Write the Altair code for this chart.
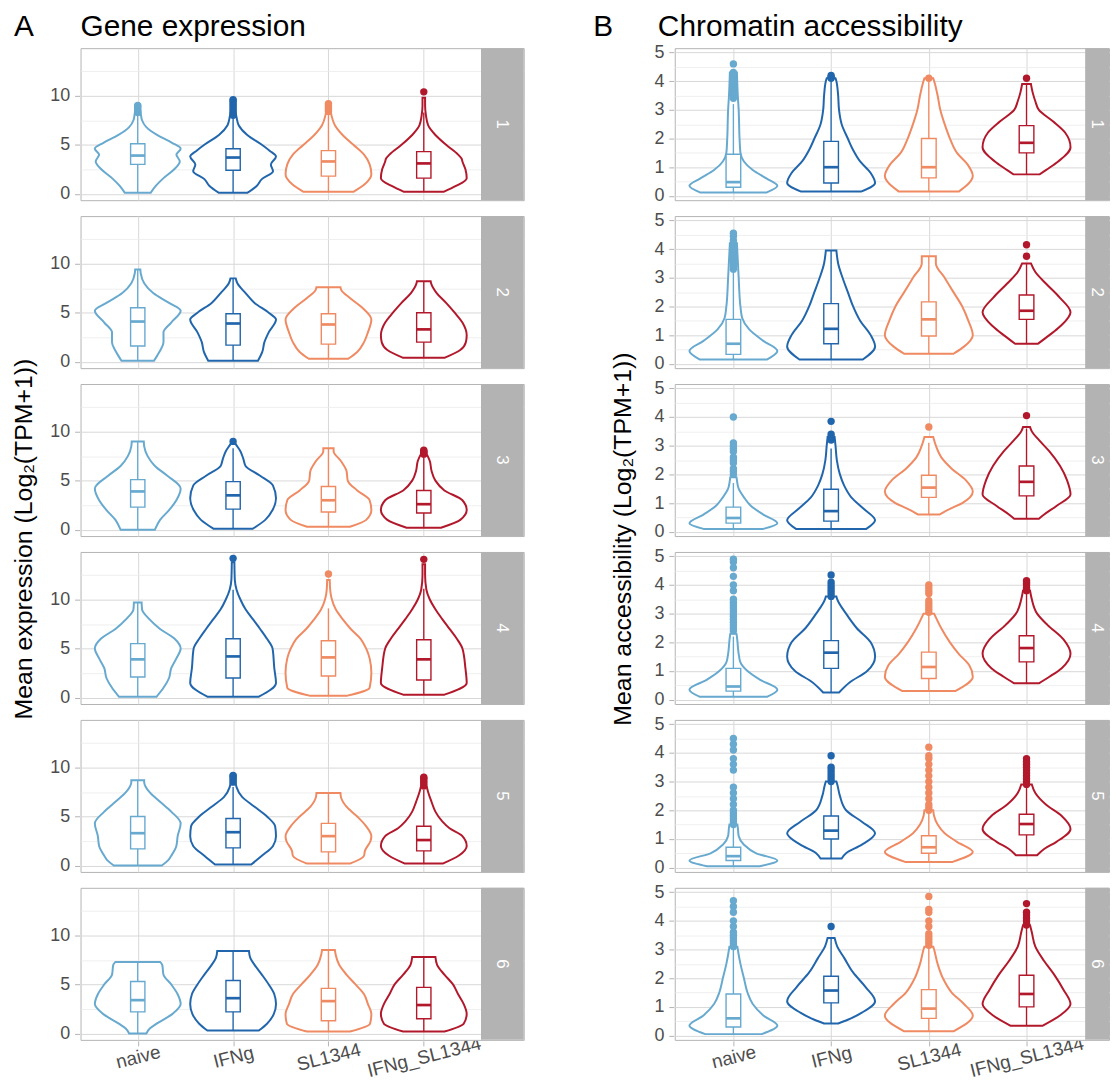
import altair as alt
import pandas as pd

FONT = "Liberation Sans"
CONDS = ["naive", "IFNg", "SL1344", "IFNg_SL1344"]
COLORS = ["#67A9CF", "#2166AC", "#EF8A62", "#B2182B"]
ROWS = [1, 2, 3, 4, 5, 6]

# ---------------- Panel A : gene expression ----------------
# violin outlines: (value, relative half-width)
PROF_A = {
    1: {"naive": [(0.1, 0.3), (0.8, 0.42), (1.6, 0.6), (2.5, 0.85), (3.3, 0.98), (4.0, 0.9), (4.6, 1.0), (5.2, 0.8), (6.0, 0.45), (6.8, 0.2), (7.5, 0.1), (8.2, 0.07), (8.7, 0.05)],
        "IFNg": [(0.1, 0.33), (0.8, 0.55), (1.5, 0.67), (2.3, 0.93), (3.0, 0.88), (3.8, 1.0), (4.4, 0.85), (5.0, 0.67), (6.0, 0.33), (7.0, 0.13), (7.8, 0.08), (8.3, 0.06)],
        "SL1344": [(0.2, 0.58), (1.0, 0.85), (2.0, 1.0), (3.0, 0.96), (4.0, 0.83), (5.0, 0.58), (6.0, 0.33), (7.0, 0.15), (8.0, 0.07), (8.5, 0.05)],
        "IFNg_SL1344": [(0.2, 0.46), (0.8, 0.75), (1.6, 1.0), (2.5, 0.97), (3.3, 0.9), (3.6, 0.88), (4.0, 0.8), (5.0, 0.52), (6.0, 0.27), (7.0, 0.1), (8.0, 0.05), (9.0, 0.03), (9.8, 0.03)]},
    2: {"naive": [(0.1, 0.38), (0.6, 0.45), (1.2, 0.53), (2.0, 0.6), (3.0, 0.6), (4.0, 0.78), (5.2, 1.0), (6.0, 0.73), (7.0, 0.36), (8.0, 0.15), (9.0, 0.07), (9.4, 0.06)],
        "IFNg": [(0.1, 0.58), (1.0, 0.68), (2.0, 0.73), (3.0, 0.83), (4.3, 1.0), (5.0, 0.83), (6.0, 0.5), (7.0, 0.29), (8.0, 0.1), (8.5, 0.06)],
        "SL1344": [(0.3, 0.46), (1.0, 0.67), (2.0, 0.83), (3.0, 0.92), (4.3, 1.0), (5.5, 0.79), (6.5, 0.5), (7.3, 0.3), (7.6, 0.28)],
        "IFNg_SL1344": [(0.4, 0.48), (1.2, 0.85), (2.0, 0.98), (2.7, 1.0), (4.0, 0.9), (5.0, 0.72), (6.0, 0.52), (7.0, 0.3), (8.0, 0.17), (8.2, 0.16)]},
    3: {"naive": [(0.0, 0.4), (1.0, 0.52), (2.0, 0.73), (3.0, 0.9), (4.2, 1.0), (5.5, 0.69), (6.5, 0.4), (7.5, 0.23), (8.5, 0.15), (9.0, 0.14)],
        "IFNg": [(0.1, 0.46), (1.0, 0.75), (2.0, 0.92), (3.2, 1.0), (4.5, 0.93), (5.5, 0.63), (6.5, 0.29), (7.2, 0.24), (8.0, 0.17), (8.6, 0.08), (8.8, 0.05)],
        "SL1344": [(0.3, 0.5), (1.0, 0.88), (2.0, 1.0), (3.0, 0.96), (4.0, 0.67), (5.0, 0.45), (6.0, 0.42), (7.0, 0.29), (8.0, 0.12), (8.3, 0.12)],
        "IFNg_SL1344": [(0.2, 0.4), (1.0, 0.85), (2.0, 1.0), (3.0, 0.9), (4.0, 0.48), (5.0, 0.27), (6.0, 0.18), (7.0, 0.14), (7.6, 0.08)]},
    4: {"naive": [(0.1, 0.44), (1.0, 0.6), (2.0, 0.73), (3.0, 0.78), (4.0, 0.9), (5.0, 1.0), (6.0, 0.86), (7.0, 0.52), (8.0, 0.27), (9.0, 0.1), (9.7, 0.09)],
        "IFNg": [(0.1, 0.6), (1.5, 1.0), (3.0, 0.96), (5.0, 0.92), (6.0, 0.79), (7.0, 0.63), (8.0, 0.46), (9.0, 0.29), (10.0, 0.17), (11.0, 0.08), (12.0, 0.04), (13.8, 0.03)],
        "SL1344": [(0.2, 0.44), (1.0, 0.96), (2.5, 1.0), (4.0, 0.96), (5.0, 0.88), (6.0, 0.75), (7.0, 0.52), (8.0, 0.33), (9.0, 0.17), (10.0, 0.08), (11.0, 0.04), (12.0, 0.03)],
        "IFNg_SL1344": [(0.3, 0.48), (1.5, 1.0), (3.0, 0.97), (5.0, 0.9), (6.0, 0.77), (7.0, 0.6), (8.0, 0.43), (9.0, 0.27), (10.0, 0.14), (11.0, 0.06), (12.5, 0.03), (13.6, 0.03)]},
    5: {"naive": [(0.0, 0.56), (0.5, 0.7), (1.0, 0.78), (2.0, 0.9), (3.0, 0.93), (4.3, 1.0), (5.5, 0.78), (6.5, 0.52), (7.5, 0.27), (8.5, 0.15), (8.7, 0.15)],
        "IFNg": [(0.1, 0.42), (1.0, 0.67), (2.0, 0.93), (3.0, 1.0), (4.0, 0.98), (5.0, 0.79), (6.0, 0.5), (7.0, 0.21), (8.0, 0.08), (8.4, 0.06)],
        "SL1344": [(0.2, 0.5), (1.0, 0.83), (1.5, 0.85), (2.5, 0.98), (3.0, 1.0), (4.0, 0.88), (5.0, 0.67), (6.0, 0.42), (7.0, 0.29), (7.4, 0.28)],
        "IFNg_SL1344": [(0.2, 0.44), (1.0, 0.81), (2.0, 1.0), (3.0, 0.9), (3.8, 0.6), (4.5, 0.43), (5.5, 0.27), (6.5, 0.18), (7.5, 0.1), (8.0, 0.07)]},
    6: {"naive": [(0.0, 0.2), (0.5, 0.28), (1.0, 0.44), (2.0, 0.81), (3.0, 1.0), (4.0, 0.93), (5.0, 0.78), (6.0, 0.6), (7.0, 0.57), (7.3, 0.52)],
        "IFNg": [(0.3, 0.6), (1.0, 0.79), (2.0, 0.95), (3.0, 1.0), (4.0, 0.96), (5.0, 0.83), (6.0, 0.67), (7.0, 0.5), (7.7, 0.4), (8.4, 0.37)],
        "SL1344": [(0.2, 0.5), (1.0, 0.97), (2.0, 1.0), (3.0, 0.92), (4.0, 0.83), (5.0, 0.63), (6.0, 0.42), (7.0, 0.25), (8.0, 0.17), (8.5, 0.15)],
        "IFNg_SL1344": [(0.2, 0.48), (1.0, 0.93), (2.0, 1.0), (3.0, 0.93), (4.0, 0.8), (5.0, 0.68), (6.0, 0.48), (7.0, 0.31), (7.8, 0.27)]},
}
# box stats: (lower whisker, q1, median, q3, upper whisker)
BOX_A = {
    1: {"naive": (0.1, 3.0, 3.9, 5.1, 8.2), "IFNg": (0.1, 2.4, 3.7, 4.6, 7.9), "SL1344": (0.2, 1.8, 3.3, 4.4, 8.2), "IFNg_SL1344": (0.2, 1.6, 3.1, 4.3, 8.3)},
    2: {"naive": (0.1, 1.6, 4.1, 5.5, 9.4), "IFNg": (0.1, 1.7, 3.9, 4.9, 8.5), "SL1344": (0.3, 1.8, 3.8, 4.9, 7.6), "IFNg_SL1344": (0.4, 2.0, 3.3, 5.0, 8.2)},
    3: {"naive": (0.0, 2.3, 3.9, 5.1, 9.0), "IFNg": (0.1, 2.1, 3.5, 4.9, 8.3), "SL1344": (0.3, 1.8, 3.0, 4.4, 8.3), "IFNg_SL1344": (0.2, 1.7, 2.6, 4.0, 7.6)},
    4: {"naive": (0.1, 2.1, 3.9, 5.5, 9.7), "IFNg": (0.1, 2.0, 4.2, 6.0, 11.0), "SL1344": (0.2, 2.2, 4.1, 5.8, 9.1), "IFNg_SL1344": (0.3, 1.8, 3.9, 5.9, 11.1)},
    5: {"naive": (0.0, 1.7, 3.3, 5.0, 8.7), "IFNg": (0.1, 1.8, 3.4, 4.8, 8.0), "SL1344": (0.2, 1.4, 3.0, 4.3, 7.4), "IFNg_SL1344": (0.2, 1.5, 2.6, 4.0, 7.7)},
    6: {"naive": (0.0, 2.2, 3.4, 5.3, 7.3), "IFNg": (0.3, 2.2, 3.6, 5.4, 8.4), "SL1344": (0.2, 1.3, 3.3, 4.6, 8.5), "IFNg_SL1344": (0.2, 1.5, 2.9, 4.7, 7.8)},
}
OUT_A = {
    1: {"naive": [8.3, 8.5, 8.7, 8.9, 9.0], "IFNg": [8.0, 8.3, 8.5, 8.7, 8.9, 9.1, 9.3, 9.5, 9.6], "SL1344": [8.4, 8.6, 8.8, 9.0, 9.2], "IFNg_SL1344": [10.4]},
    2: {},
    3: {"IFNg": [9.0], "IFNg_SL1344": [7.7, 7.8, 7.9, 8.0, 8.1]},
    4: {"IFNg": [14.2], "SL1344": [12.6], "IFNg_SL1344": [14.1]},
    5: {"IFNg": [8.5, 8.7, 8.9, 9.1, 9.2], "IFNg_SL1344": [8.1, 8.3, 8.5, 8.7, 8.9, 9.0]},
    6: {},
}

# ---------------- Panel B : chromatin accessibility ----------------
PROF_B = {
    1: {"naive": [(0.12, 0.76), (0.35, 1.0), (0.6, 0.76), (0.9, 0.44), (1.2, 0.24), (1.5, 0.16), (2.0, 0.14), (3.0, 0.12), (3.5, 0.1), (4.3, 0.08)],
        "IFNg": [(0.15, 0.68), (0.45, 1.0), (0.8, 0.9), (1.2, 0.66), (1.6, 0.5), (2.0, 0.38), (2.5, 0.24), (3.0, 0.18), (3.5, 0.16), (4.0, 0.12), (4.1, 0.1)],
        "SL1344": [(0.15, 0.68), (0.7, 1.0), (1.1, 0.88), (1.5, 0.64), (2.0, 0.48), (2.5, 0.36), (3.0, 0.26), (3.5, 0.2), (3.9, 0.14), (4.1, 0.1)],
        "IFNg_SL1344": [(0.75, 0.3), (0.9, 0.44), (1.2, 0.72), (1.7, 1.0), (2.2, 0.88), (2.6, 0.6), (3.0, 0.28), (3.3, 0.2), (3.6, 0.14), (3.9, 0.1)]},
    2: {"naive": [(0.15, 0.76), (0.45, 1.0), (0.8, 0.68), (1.2, 0.36), (1.6, 0.2), (2.0, 0.16), (3.0, 0.12), (4.2, 0.08)],
        "IFNg": [(0.15, 0.72), (0.6, 1.0), (1.0, 0.9), (1.5, 0.66), (2.0, 0.5), (2.5, 0.38), (3.0, 0.26), (3.5, 0.16), (3.95, 0.12)],
        "SL1344": [(0.35, 0.56), (0.6, 0.8), (1.0, 1.0), (1.5, 0.9), (2.0, 0.76), (2.5, 0.56), (3.0, 0.36), (3.5, 0.16), (3.75, 0.16)],
        "IFNg_SL1344": [(0.7, 0.26), (1.0, 0.52), (1.3, 0.76), (1.8, 1.0), (2.3, 0.76), (2.8, 0.44), (3.2, 0.2), (3.5, 0.1)]},
    3: {"naive": [(0.1, 0.68), (0.3, 1.0), (0.6, 0.68), (0.9, 0.4), (1.2, 0.24), (1.5, 0.12), (1.8, 0.08), (1.9, 0.07)],
        "IFNg": [(0.1, 0.8), (0.4, 1.0), (0.8, 0.74), (1.2, 0.46), (1.6, 0.3), (2.0, 0.2), (2.5, 0.13), (3.0, 0.1), (3.3, 0.08)],
        "SL1344": [(0.6, 0.24), (0.8, 0.48), (1.0, 0.76), (1.4, 1.0), (1.8, 0.84), (2.2, 0.52), (2.6, 0.28), (3.0, 0.16), (3.3, 0.1)],
        "IFNg_SL1344": [(0.45, 0.28), (0.6, 0.4), (0.9, 0.68), (1.3, 1.0), (1.8, 0.92), (2.3, 0.76), (2.8, 0.52), (3.2, 0.28), (3.5, 0.12), (3.65, 0.08)]},
    4: {"naive": [(0.1, 0.76), (0.35, 1.0), (0.7, 0.6), (1.0, 0.32), (1.3, 0.16), (1.6, 0.12), (2.2, 0.08), (2.3, 0.07)],
        "IFNg": [(0.25, 0.18), (0.6, 0.42), (1.0, 0.82), (1.5, 1.0), (2.0, 0.9), (2.5, 0.58), (3.0, 0.34), (3.5, 0.14), (3.6, 0.12)],
        "SL1344": [(0.3, 0.6), (0.8, 1.0), (1.2, 0.92), (1.6, 0.68), (2.0, 0.48), (2.5, 0.28), (3.0, 0.12)],
        "IFNg_SL1344": [(0.57, 0.28), (0.8, 0.52), (1.1, 0.8), (1.6, 1.0), (2.1, 0.84), (2.6, 0.48), (3.0, 0.24), (3.5, 0.12), (3.8, 0.08)]},
    5: {"naive": [(0.05, 0.6), (0.25, 1.0), (0.5, 0.52), (0.8, 0.24), (1.1, 0.12), (1.4, 0.1), (1.5, 0.09)],
        "IFNg": [(0.32, 0.24), (0.5, 0.34), (0.8, 0.7), (1.2, 1.0), (1.6, 0.7), (2.0, 0.34), (2.5, 0.2), (2.9, 0.14), (3.0, 0.12)],
        "SL1344": [(0.2, 0.54), (0.55, 1.0), (0.9, 0.64), (1.2, 0.36), (1.5, 0.2), (1.8, 0.12), (2.0, 0.1)],
        "IFNg_SL1344": [(0.43, 0.24), (0.65, 0.4), (0.9, 0.68), (1.35, 1.0), (1.8, 0.8), (2.2, 0.44), (2.6, 0.2), (2.9, 0.12)]},
    6: {"naive": [(0.05, 0.64), (0.35, 1.0), (0.7, 0.68), (1.1, 0.44), (1.5, 0.32), (2.0, 0.24), (2.5, 0.16), (3.0, 0.1), (3.1, 0.09)],
        "IFNg": [(0.42, 0.16), (0.55, 0.38), (0.8, 0.7), (1.2, 1.0), (1.7, 0.78), (2.2, 0.5), (2.7, 0.3), (3.1, 0.14), (3.4, 0.08)],
        "SL1344": [(0.15, 0.56), (0.7, 1.0), (1.1, 0.8), (1.5, 0.52), (2.0, 0.32), (2.5, 0.2), (3.0, 0.12), (3.1, 0.1)],
        "IFNg_SL1344": [(0.34, 0.36), (0.7, 0.76), (1.1, 1.0), (1.6, 0.84), (2.1, 0.64), (2.6, 0.4), (3.1, 0.2), (3.6, 0.12), (3.85, 0.08)]},
}
BOX_B = {
    1: {"naive": (0.12, 0.3, 0.48, 1.45, 3.2), "IFNg": (0.15, 0.45, 1.0, 1.9, 4.0), "SL1344": (0.15, 0.63, 1.0, 2.0, 4.05), "IFNg_SL1344": (0.75, 1.5, 1.85, 2.45, 3.9)},
    2: {"naive": (0.15, 0.33, 0.7, 1.55, 3.3), "IFNg": (0.15, 0.7, 1.22, 2.1, 3.95), "SL1344": (0.35, 0.97, 1.55, 2.16, 3.75), "IFNg_SL1344": (0.7, 1.55, 1.85, 2.4, 3.5)},
    3: {"naive": (0.1, 0.3, 0.48, 0.86, 1.7), "IFNg": (0.1, 0.37, 0.72, 1.48, 2.9), "SL1344": (0.6, 1.2, 1.54, 1.97, 3.1), "IFNg_SL1344": (0.45, 1.25, 1.74, 2.29, 3.6)},
    4: {"naive": (0.1, 0.3, 0.46, 1.09, 2.2), "IFNg": (0.25, 1.09, 1.64, 2.06, 3.5), "SL1344": (0.3, 0.74, 1.14, 1.66, 3.0), "IFNg_SL1344": (0.57, 1.32, 1.8, 2.23, 3.7)},
    5: {"naive": (0.05, 0.25, 0.4, 0.71, 1.4), "IFNg": (0.32, 1.0, 1.29, 1.8, 2.9), "SL1344": (0.2, 0.5, 0.71, 1.11, 1.9), "IFNg_SL1344": (0.43, 1.14, 1.52, 1.86, 2.8)},
    6: {"naive": (0.05, 0.3, 0.6, 1.45, 3.0), "IFNg": (0.42, 1.14, 1.57, 2.07, 3.4), "SL1344": (0.15, 0.6, 0.94, 1.6, 3.1), "IFNg_SL1344": (0.34, 1.0, 1.45, 2.1, 3.8)},
}
OUT_B = {
    1: {"naive": [3.4, 3.5, 3.6, 3.7, 3.8, 3.9, 4.0, 4.1, 4.2, 4.3, 4.6], "IFNg": [4.1, 4.15, 4.2], "SL1344": [4.1], "IFNg_SL1344": [4.1]},
    2: {"naive": [3.3, 3.4, 3.5, 3.6, 3.7, 3.8, 3.9, 4.0, 4.1, 4.2, 4.3, 4.45, 4.55], "IFNg_SL1344": [3.75, 4.15]},
    3: {"naive": [2.0, 2.1, 2.2, 2.4, 2.5, 2.6, 2.8, 2.9, 3.0, 3.1, 4.0], "IFNg": [3.2, 3.3, 3.4, 3.85], "SL1344": [3.65], "IFNg_SL1344": [4.05]},
    4: {"naive": [2.4, 2.5, 2.6, 2.7, 2.8, 2.9, 3.0, 3.1, 3.2, 3.3, 3.4, 3.5, 3.8, 4.0, 4.3, 4.6, 4.8, 4.9],
        "IFNg": [3.6, 3.7, 3.8, 3.9, 4.0, 4.1, 4.35], "SL1344": [3.05, 3.15, 3.25, 3.35, 3.45, 3.7, 3.8, 3.9, 4.0],
        "IFNg_SL1344": [3.8, 3.85, 3.9, 4.0, 4.05, 4.1, 4.15]},
    5: {"naive": [1.5, 1.6, 1.7, 1.8, 1.9, 2.0, 2.2, 2.4, 2.6, 2.8, 3.4, 3.6, 3.8, 4.1, 4.3, 4.5],
        "IFNg": [3.0, 3.1, 3.2, 3.3, 3.4, 3.5, 3.9],
        "SL1344": [2.0, 2.1, 2.2, 2.4, 2.6, 2.8, 3.0, 3.2, 3.4, 3.6, 3.8, 3.9, 4.2],
        "IFNg_SL1344": [2.9, 3.0, 3.1, 3.2, 3.3, 3.4, 3.5, 3.6, 3.7, 3.8]},
    6: {"naive": [3.1, 3.2, 3.3, 3.4, 3.5, 3.6, 3.8, 4.0, 4.3, 4.5, 4.7], "IFNg": [3.8],
        "SL1344": [3.15, 3.25, 3.35, 3.45, 3.55, 3.8, 4.0, 4.3, 4.4, 4.85],
        "IFNg_SL1344": [3.85, 3.9, 4.0, 4.1, 4.2, 4.3, 4.6]},
}

PANEL_LETTERS = ["A", "B"]
PANEL_TITLES = ["Gene expression", "Chromatin accessibility"]
Y_TITLES = ["Mean expression (Log\u2082(TPM+1))", "Mean accessibility (Log\u2082(TPM+1))"]

VIOLIN_HALF = 0.45
BOX_HALF = 0.075
H = 153
SPACING = 14
GRID_H = 6 * H + 5 * SPACING


def build(prof, boxes, outs):
    recs = []
    for r in ROWS:
        recs.append(dict(kind="strip", row=r))
        for i, c in enumerate(CONDS):
            pos = i + 1
            for y, w in sorted(prof[r][c]):
                recs.append(dict(kind="violin", row=r, cond=c, y=y,
                                 xl=pos - VIOLIN_HALF * w, xr=pos + VIOLIN_HALF * w))
            lo, q1, med, q3, hi = boxes[r][c]
            recs.append(dict(kind="box", row=r, cond=c, pos=pos, bl=pos - BOX_HALF,
                             br=pos + BOX_HALF, lo=lo, q1=q1, med=med, q3=q3, hi=hi))
            for v in outs[r].get(c, []):
                recs.append(dict(kind="out", row=r, cond=c, pos=pos, y=v))
    return pd.DataFrame(recs)


def panel(df, ydom, ymajor, yvalues, xmax, plot_w, full_w):
    cs = alt.Scale(domain=CONDS, range=COLORS)
    xs = alt.Scale(domain=[0.4, xmax], nice=False, zero=False)
    ys = alt.Scale(domain=ydom, nice=False, zero=False)
    test = f"abs(datum.value/{ymajor} - round(datum.value/{ymajor})) < 0.001"
    yaxis = alt.Axis(values=yvalues, title=None,
                     labelExpr=f"({test}) ? format(datum.value, 'd') : ''",
                     gridColor={"condition": {"test": test, "value": "#D8D8D8"}, "value": "#EBEBEB"},
                     gridWidth={"condition": {"test": test, "value": 1.0}, "value": 0.8},
                     tickColor={"condition": {"test": test, "value": "#B3B3B3"}, "value": "transparent"})
    names = "[" + ",".join(f"'{c}'" for c in CONDS) + "]"
    xaxis = alt.Axis(values=[1, 2, 3, 4], title=None, labelExpr=f"{names}[datum.value-1]",
                     labelAngle=-14, labelAlign="center", labelBaseline="middle",
                     labelPadding=11, labelFontSize=19, gridColor="#D8D8D8", gridWidth=1.0)
    base = alt.Chart()
    violin = base.transform_filter(alt.datum.kind == "violin").mark_area(
        orient="horizontal", fill="white", fillOpacity=1, strokeWidth=2.0, interpolate="monotone"
    ).encode(
        y=alt.Y("y:Q", scale=ys, axis=yaxis),
        x=alt.X("xl:Q", scale=xs, axis=xaxis),
        x2="xr:Q",
        stroke=alt.Stroke("cond:N", scale=cs, legend=None),
        detail="cond:N",
    )
    boxdf = base.transform_filter(alt.datum.kind == "box")
    whisker = boxdf.mark_rule(strokeWidth=1.4).encode(
        x=alt.X("pos:Q", scale=xs, axis=xaxis),
        y=alt.Y("lo:Q", scale=ys, axis=yaxis), y2="hi:Q",
        color=alt.Color("cond:N", scale=cs, legend=None))
    box = boxdf.mark_rect(fill="white", strokeWidth=1.4).encode(
        x=alt.X("bl:Q", scale=xs, axis=xaxis), x2="br:Q",
        y=alt.Y("q1:Q", scale=ys, axis=yaxis), y2="q3:Q",
        stroke=alt.Stroke("cond:N", scale=cs, legend=None))
    median = boxdf.mark_rule(strokeWidth=2.7).encode(
        x=alt.X("bl:Q", scale=xs, axis=xaxis), x2="br:Q",
        y=alt.Y("med:Q", scale=ys, axis=yaxis),
        color=alt.Color("cond:N", scale=cs, legend=None))
    outl = base.transform_filter(alt.datum.kind == "out").mark_circle(size=55, opacity=1).encode(
        x=alt.X("pos:Q", scale=xs, axis=xaxis),
        y=alt.Y("y:Q", scale=ys, axis=yaxis),
        color=alt.Color("cond:N", scale=cs, legend=None))
    sdf = base.transform_filter(alt.datum.kind == "strip")
    strip = sdf.mark_rect(fill="#B3B3B3").encode(
        x=alt.value(plot_w), x2=alt.value(full_w), y=alt.value(0), y2=alt.value(H))
    stext = sdf.mark_text(angle=90, color="white", fontSize=17, font=FONT).encode(
        text="row:N", x=alt.value((plot_w + full_w) / 2), y=alt.value(H / 2))
    lay = alt.layer(violin, whisker, box, median, outl, strip, stext, data=df).properties(
        width=full_w, height=H)
    return lay.facet(row=alt.Row("row:O", header=alt.Header(labels=False, title=None), title=None),
                     spacing=SPACING)


def ytitle_chart(text):
    return alt.Chart(pd.DataFrame({"t": [text]})).mark_text(
        angle=270, fontSize=25, font=FONT, color="black", align="center", baseline="middle"
    ).encode(text="t:N", x=alt.value(15), y=alt.value(GRID_H / 2)).properties(
        width=30, height=GRID_H, view=alt.ViewBackground(stroke="transparent"))


def title_chart():
    layers = []
    for txt, xpos in zip([PANEL_LETTERS[0], PANEL_TITLES[0], PANEL_LETTERS[1], PANEL_TITLES[1]],
                         [5, 72, 588, 653]):
        layers.append(alt.Chart(pd.DataFrame({"t": [txt]})).mark_text(
            fontSize=30, font=FONT, color="black", align="left", baseline="alphabetic"
        ).encode(text="t:N", x=alt.value(xpos), y=alt.value(23)))
    return alt.layer(*layers).properties(width=1099, height=16,
                                         view=alt.ViewBackground(stroke="transparent"))


dfA = build(PROF_A, BOX_A, OUT_A)
dfB = build(PROF_B, BOX_B, OUT_B)

chartA = panel(dfA, [-0.65, 14.85], 5, [0, 2.5, 5, 7.5, 10, 12.5], 5.048, 403, 446)
chartB = panel(dfB, [-0.15, 5.15], 1, [0, 0.5, 1, 1.5, 2, 2.5, 3, 3.5, 4, 4.5, 5], 4.844, 413, 437)

left = alt.hconcat(ytitle_chart(Y_TITLES[0]), chartA, spacing=9).resolve_scale(
    x="independent", y="independent")
right = alt.hconcat(ytitle_chart(Y_TITLES[1]), chartB, spacing=14).resolve_scale(
    x="independent", y="independent")
body = alt.hconcat(left, right, spacing=83).resolve_scale(x="independent", y="independent")

chart = alt.vconcat(title_chart(), body, spacing=0).resolve_scale(
    x="independent", y="independent"
).properties(
    padding={"left": 0, "top": 0, "right": 0, "bottom": 0}
).configure_view(stroke="#B3B3B3", strokeWidth=1, fill="white").configure_axis(
    labelColor="#4D4D4D", labelFontSize=18, labelFont=FONT, titleFont=FONT,
    domain=False, tickColor="#B3B3B3", tickSize=5, labelPadding=5
)

chart.save("out.html", embed_options={"renderer": "svg", "actions": False})
